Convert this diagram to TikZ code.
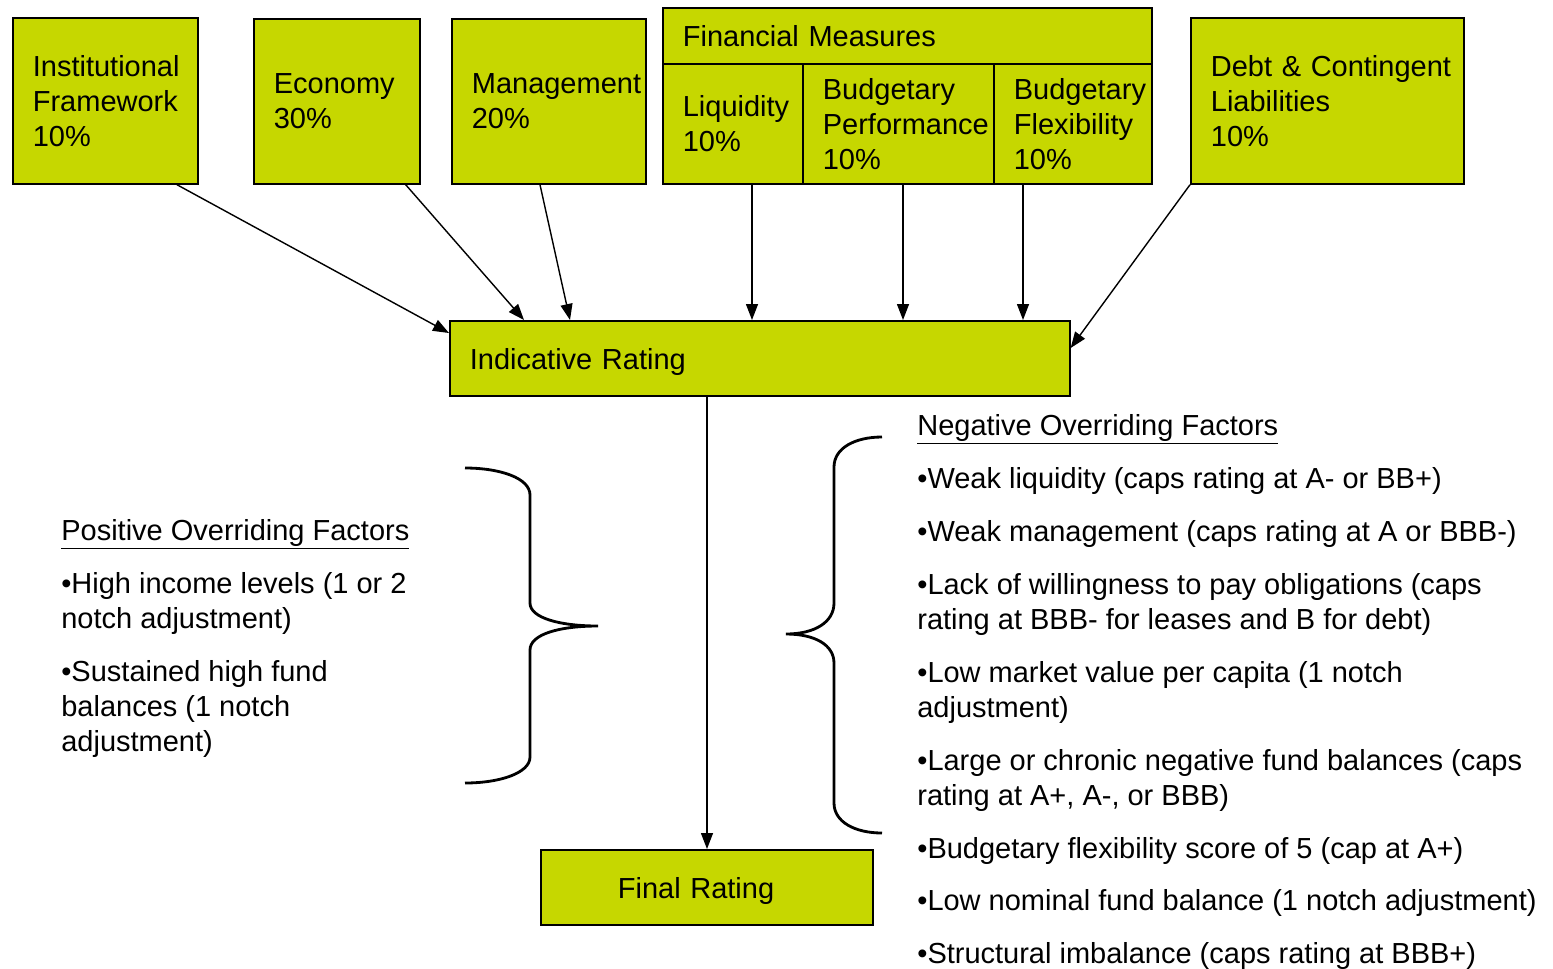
\documentclass[tikz,border=0pt]{standalone}
\usepackage{fontspec}
\setmainfont{Liberation Sans}
\usetikzlibrary{arrows.meta,calc}
\definecolor{ratinggreen}{RGB}{198,215,0}

\tikzset{
  factor/.style 2 args={draw, line width=1pt, fill=ratinggreen, anchor=north west,
    inner xsep=0.4cm, inner ysep=0pt, align=left, text width=#1, minimum height=#2},
  feed/.style={-{Triangle[length=0.32cm,width=0.24cm]}, line width=0.8pt},
  curly/.style={line width=1.6pt},
  notes/.style={anchor=north west, inner sep=0pt, align=left}
}

\begin{document}
\begin{tikzpicture}[x=0.02cm, y=-0.02cm, font=\fontsize{16.5}{19.9}\selectfont]
    \useasboundingbox (0,0) rectangle (1553,968);
    % weighted factors
    \node[factor={2.9cm}{3.32cm}] (inst) at (12,17) {Institutional\\Framework\\10\%};
    \node[factor={2.52cm}{3.3cm}] (econ) at (253,18) {Economy\\30\%};
    \node[factor={3.08cm}{3.3cm}] (mgmt) at (451,18) {Management\\20\%};
    \node[factor={8.98cm}{1.12cm}] (fin) at (662,7) {Financial Measures};
    \node[factor={2.0cm}{2.4cm}] (liq) at (662,63) {Liquidity\\10\%};
    \node[factor={3.02cm}{2.4cm}] (perf) at (802,63) {Budgetary\\Performance\\10\%};
    \node[factor={2.36cm}{2.4cm}] (flex) at (993,63) {Budgetary\\Flexibility\\10\%};
    \node[factor={4.66cm}{3.32cm}] (debt) at (1190,17) {\mbox{Debt \& Contingent}\\Liabilities\\10\%};
    % ratings
    \node[factor={11.6cm}{1.5cm}, text height=0.56cm] (ind) at (449,320) {Indicative Rating};
    \node[factor={5.84cm}{1.5cm}, text height=0.58cm] (final) at (540,849) {\hspace*{1.14cm}Final Rating};
    % connectors
    \draw[feed] ($(inst.south west)+(165,0)$) -- ($(ind.north west)+(0,13)$);
    \draw[feed] ($(econ.south east)+(-15,0)$) -- ($(ind.north west)+(75,0)$);
    \draw[feed] ($(mgmt.south west)+(89,0)$) -- ($(ind.north west)+(121,0)$);
    \foreach \n/\dx in {liq/90,perf/101,flex/30} {
        \draw[feed] ($(\n.south west)+(\dx,0)$) coordinate (s) -- (s |- ind.north);
      }
    \draw[feed] (debt.south west) -- ($(ind.north east)+(0,28)$);
    \draw[feed] ($(ind.south west)+(258,0)$) coordinate (t) -- (t |- final.north);
    % braces
    \draw[curly] (465,468) .. controls (500,468) and (530,478) .. (530,495) -- (530,603)
      .. controls (530,618) and (560,626) .. (598,626)
      .. controls (560,626) and (530,634) .. (530,650) -- (530,757)
      .. controls (530,773) and (500,783) .. (465,783);
    \draw[curly] (882,437) .. controls (855,437) and (834,448) .. (834,467) -- (834,603)
      .. controls (834,622) and (815,634) .. (786,634)
      .. controls (815,634) and (834,645) .. (834,663) -- (834,803)
      .. controls (834,822) and (855,833) .. (882,833);
    % overriding factors
    \node[notes] (pos) at (61,519) {\underline{Positive Overriding Factors}\\[0.36cm]
      •High income levels (1 or 2\\notch adjustment)\\[0.36cm]
      •Sustained high fund\\balances (1 notch\\adjustment)};
    \node[notes] (neg) at (917,414) {\underline{Negative Overriding Factors}\\[0.36cm]
      •Weak liquidity (caps rating at A- or BB+)\\[0.36cm]
      •Weak management (caps rating at A or BBB-)\\[0.36cm]
      •Lack of willingness to pay obligations (caps\\rating at BBB- for leases and B for debt)\\[0.36cm]
      •Low market value per capita (1 notch\\adjustment)\\[0.36cm]
      •Large or chronic negative fund balances (caps\\rating at A+, A-, or BBB)\\[0.36cm]
      •Budgetary flexibility score of 5 (cap at A+)\\[0.36cm]
      •Low nominal fund balance (1 notch adjustment)\\[0.36cm]
      •Structural imbalance (caps rating at BBB+)};
  \end{tikzpicture}
\end{document}
